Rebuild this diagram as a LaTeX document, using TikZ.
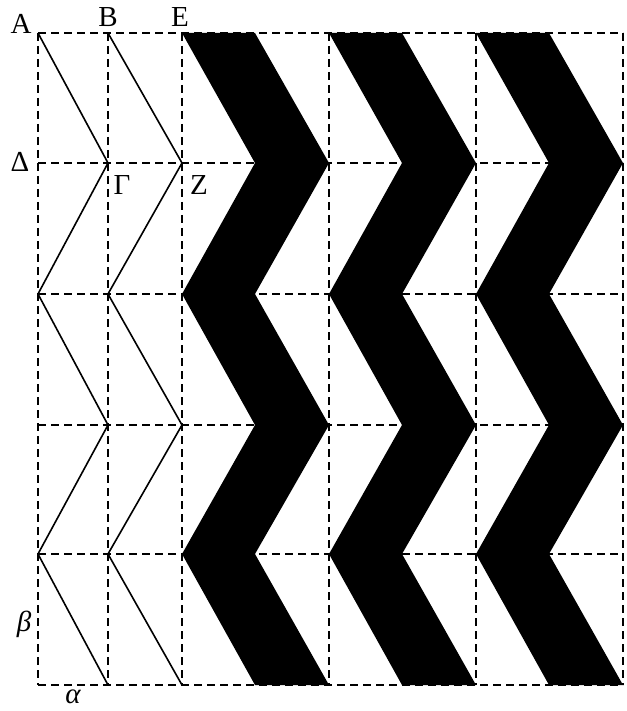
\documentclass[tikz,border=0pt]{standalone}
\usepackage{fontspec}
\setmainfont{Liberation Serif}
\tikzset{
  gridline/.style={line width=2.2pt, dash pattern=on 8pt off 5pt},
  zigline/.style={line width=1.6pt},
  band/.style={fill=black},
  lbl/.style={inner sep=0pt, font=\fontsize{29}{32}\selectfont}
}
\begin{document}
\begin{tikzpicture}[x=1pt, y=-1pt]
    \useasboundingbox (0,0) rectangle (626,711);
    % black bands
    \foreach \s in {182,329,476} {
        \fill[band] (\s,33) -- (\s+73,33) -- (\s+147,163) -- (\s+73,294)
            -- (\s+147,425) -- (\s+73,554) -- (\s+147,685) -- (\s+73,685)
            -- (\s,554) -- (\s+73,425) -- (\s,294) -- (\s+73,163) -- cycle;
    }
    % thin zigzags
    \draw[zigline] (38,33) -- (108,163) -- (38,294) -- (108,425) -- (38,554) -- (108,685);
    \draw[zigline] (108,33) -- (182,163) -- (108,294) -- (182,425) -- (108,554) -- (182,685);
    % dashed grid
    \foreach \y in {33,163,294,425,554,685}
        \draw[gridline] (38,\y) -- (623,\y);
    \foreach \x in {38,108,182,329,476,623}
        \draw[gridline] (\x,33) -- (\x,685);
    % labels
    \node[lbl] (A) at (21,24) {Α};
    \node[lbl] (B) at (108,17) {Β};
    \node[lbl] (E) at (180,17) {Ε};
    \node[lbl] (Delta) at (20,162) {Δ};
    \node[lbl] (Gamma) at (122,185) {Γ};
    \node[lbl] (Z) at (199,185) {Ζ};
    \node[lbl] (beta) at (24,624) {\itshape β};
    \node[lbl] (alpha) at (73,697) {\itshape α};
\end{tikzpicture}
\end{document}
